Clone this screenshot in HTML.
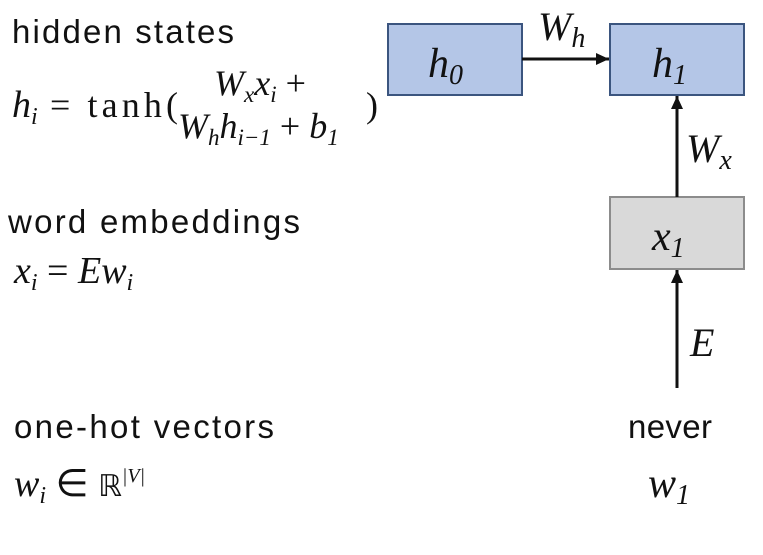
<!DOCTYPE html>
<html><head><meta charset="utf-8"><style>
html,body{margin:0;padding:0;background:#fff;}
svg{display:block;}
.t{font-family:"Liberation Sans",sans-serif;fill:#111;font-size:33px;}
.m{font-family:"Liberation Serif",serif;font-style:italic;fill:#111;}
.r{font-family:"Liberation Serif",serif;fill:#111;}
</style></head><body>
<svg width="763" height="555" viewBox="0 0 763 555">
<defs><marker id="ah" markerWidth="14" markerHeight="14" refX="13" refY="6" orient="auto" markerUnits="userSpaceOnUse"><path d="M0,0 L13,6 L0,12 z" fill="#111"/></marker></defs>
<text class="t" x="12" y="43" textLength="222" lengthAdjust="spacing">hidden states</text>
<g>
<text class="m" x="12" y="117" font-size="38">h<tspan font-size="24" dy="7">i</tspan></text>
<text class="r" x="50" y="117" font-size="36" textLength="128" lengthAdjust="spacing">= tanh(</text>
<text class="m" x="214" y="95" font-size="36">W<tspan font-size="23" dy="7">x</tspan><tspan dy="-7">x</tspan><tspan font-size="23" dy="7">i</tspan><tspan class="r" font-style="normal" dy="-7"> +</tspan></text>
<text class="m" x="178" y="138" font-size="36">W<tspan font-size="23" dy="7">h</tspan><tspan dy="-7">h</tspan><tspan font-size="23" dy="7">i−1</tspan><tspan font-style="normal" dy="-7"> + </tspan>b<tspan font-size="23" dy="7">1</tspan></text>
<text class="r" x="366" y="117" font-size="36">)</text>
</g>
<text class="t" x="8" y="233" textLength="292" lengthAdjust="spacing">word embeddings</text>
<text class="m" x="14" y="283" font-size="38">x<tspan font-size="24" dy="7">i</tspan><tspan class="r" font-style="normal" dy="-7"> = </tspan>Ew<tspan font-size="24" dy="7">i</tspan></text>
<text class="t" x="14" y="438" textLength="260" lengthAdjust="spacing">one-hot vectors</text>
<text class="m" x="14" y="496" font-size="38">w<tspan font-size="24" dy="7">i</tspan><tspan class="r" font-style="normal" dy="-7"> ∈ </tspan><tspan font-style="normal" font-family="DejaVu Sans" font-size="30">ℝ</tspan><tspan font-size="20" dy="-14">|V|</tspan></text>

<rect x="388" y="24" width="134" height="71" fill="#b4c6e7" stroke="#3b557f" stroke-width="2"/>
<text class="m" x="428" y="77" font-size="42">h<tspan font-size="28" dy="7">0</tspan></text>
<rect x="610" y="24" width="134" height="71" fill="#b4c6e7" stroke="#3b557f" stroke-width="2"/>
<text class="m" x="652" y="77" font-size="42">h<tspan font-size="28" dy="7">1</tspan></text>
<line x1="522" y1="59" x2="609" y2="59" stroke="#111" stroke-width="3" marker-end="url(#ah)"/>
<text class="m" x="538" y="40" font-size="40">W<tspan font-size="28" dy="7">h</tspan></text>

<rect x="610" y="197" width="134" height="72" fill="#d9d9d9" stroke="#8c8c8c" stroke-width="2"/>
<text class="m" x="652" y="250" font-size="42">x<tspan font-size="28" dy="7">1</tspan></text>
<line x1="677" y1="197" x2="677" y2="96" stroke="#111" stroke-width="3" marker-end="url(#ah)"/>
<text class="m" x="686" y="162" font-size="40">W<tspan font-size="28" dy="7">x</tspan></text>
<line x1="677" y1="388" x2="677" y2="270" stroke="#111" stroke-width="3" marker-end="url(#ah)"/>
<text class="m" x="690" y="356" font-size="40">E</text>
<text class="t" x="628" y="438" textLength="84" lengthAdjust="spacing">never</text>
<text class="m" x="648" y="497" font-size="42">w<tspan font-size="28" dy="7">1</tspan></text>
</svg>
</body></html>
